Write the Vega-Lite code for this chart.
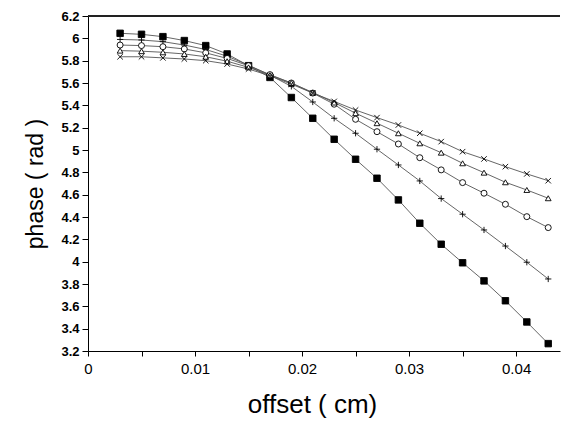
{
  "$schema": "https://vega.github.io/schema/vega-lite/v6.json",
  "width": 472,
  "height": 335,
  "autosize": {"type": "none"},
  "padding": {"left": 88, "top": 16, "right": 8, "bottom": 71},
  "background": "white",
  "config": {
    "view": {"stroke": null},
    "font": "Liberation Sans",
    "axis": {"domainColor": "#000", "tickColor": "#000", "labelColor": "#000", "titleColor": "#000", "grid": false, "titleFontWeight": "normal"}
  },
  "data": {"values": [
    {"x":0.003,"phase":6.045,"s":"A"},{"x":0.005,"phase":6.036,"s":"A"},{"x":0.007,"phase":6.015,"s":"A"},{"x":0.009,"phase":5.98,"s":"A"},{"x":0.011,"phase":5.935,"s":"A"},{"x":0.013,"phase":5.86,"s":"A"},{"x":0.015,"phase":5.755,"s":"A"},{"x":0.017,"phase":5.65,"s":"A"},{"x":0.019,"phase":5.47,"s":"A"},{"x":0.021,"phase":5.284,"s":"A"},{"x":0.023,"phase":5.096,"s":"A"},{"x":0.025,"phase":4.917,"s":"A"},{"x":0.027,"phase":4.747,"s":"A"},{"x":0.029,"phase":4.553,"s":"A"},{"x":0.031,"phase":4.344,"s":"A"},{"x":0.033,"phase":4.156,"s":"A"},{"x":0.035,"phase":3.99,"s":"A"},{"x":0.037,"phase":3.828,"s":"A"},{"x":0.039,"phase":3.65,"s":"A"},{"x":0.041,"phase":3.46,"s":"A"},{"x":0.043,"phase":3.266,"s":"A"},
    {"x":0.003,"phase":5.99,"s":"B"},{"x":0.005,"phase":5.985,"s":"B"},{"x":0.007,"phase":5.97,"s":"B"},{"x":0.009,"phase":5.94,"s":"B"},{"x":0.011,"phase":5.9,"s":"B"},{"x":0.013,"phase":5.84,"s":"B"},{"x":0.015,"phase":5.76,"s":"B"},{"x":0.017,"phase":5.67,"s":"B"},{"x":0.019,"phase":5.57,"s":"B"},{"x":0.021,"phase":5.43,"s":"B"},{"x":0.023,"phase":5.284,"s":"B"},{"x":0.025,"phase":5.15,"s":"B"},{"x":0.027,"phase":5.007,"s":"B"},{"x":0.029,"phase":4.866,"s":"B"},{"x":0.031,"phase":4.723,"s":"B"},{"x":0.033,"phase":4.565,"s":"B"},{"x":0.035,"phase":4.425,"s":"B"},{"x":0.037,"phase":4.284,"s":"B"},{"x":0.039,"phase":4.14,"s":"B"},{"x":0.041,"phase":3.995,"s":"B"},{"x":0.043,"phase":3.845,"s":"B"},
    {"x":0.003,"phase":5.94,"s":"C"},{"x":0.005,"phase":5.935,"s":"C"},{"x":0.007,"phase":5.925,"s":"C"},{"x":0.009,"phase":5.905,"s":"C"},{"x":0.011,"phase":5.87,"s":"C"},{"x":0.013,"phase":5.82,"s":"C"},{"x":0.015,"phase":5.755,"s":"C"},{"x":0.017,"phase":5.675,"s":"C"},{"x":0.019,"phase":5.6,"s":"C"},{"x":0.021,"phase":5.51,"s":"C"},{"x":0.023,"phase":5.41,"s":"C"},{"x":0.025,"phase":5.275,"s":"C"},{"x":0.027,"phase":5.164,"s":"C"},{"x":0.029,"phase":5.054,"s":"C"},{"x":0.031,"phase":4.931,"s":"C"},{"x":0.033,"phase":4.822,"s":"C"},{"x":0.035,"phase":4.708,"s":"C"},{"x":0.037,"phase":4.613,"s":"C"},{"x":0.039,"phase":4.514,"s":"C"},{"x":0.041,"phase":4.403,"s":"C"},{"x":0.043,"phase":4.305,"s":"C"},
    {"x":0.003,"phase":5.89,"s":"D"},{"x":0.005,"phase":5.885,"s":"D"},{"x":0.007,"phase":5.875,"s":"D"},{"x":0.009,"phase":5.86,"s":"D"},{"x":0.011,"phase":5.835,"s":"D"},{"x":0.013,"phase":5.795,"s":"D"},{"x":0.015,"phase":5.74,"s":"D"},{"x":0.017,"phase":5.67,"s":"D"},{"x":0.019,"phase":5.6,"s":"D"},{"x":0.021,"phase":5.515,"s":"D"},{"x":0.023,"phase":5.425,"s":"D"},{"x":0.025,"phase":5.33,"s":"D"},{"x":0.027,"phase":5.24,"s":"D"},{"x":0.029,"phase":5.15,"s":"D"},{"x":0.031,"phase":5.06,"s":"D"},{"x":0.033,"phase":4.976,"s":"D"},{"x":0.035,"phase":4.881,"s":"D"},{"x":0.037,"phase":4.797,"s":"D"},{"x":0.039,"phase":4.711,"s":"D"},{"x":0.041,"phase":4.642,"s":"D"},{"x":0.043,"phase":4.568,"s":"D"},
    {"x":0.003,"phase":5.835,"s":"E"},{"x":0.005,"phase":5.835,"s":"E"},{"x":0.007,"phase":5.825,"s":"E"},{"x":0.009,"phase":5.815,"s":"E"},{"x":0.011,"phase":5.8,"s":"E"},{"x":0.013,"phase":5.77,"s":"E"},{"x":0.015,"phase":5.725,"s":"E"},{"x":0.017,"phase":5.665,"s":"E"},{"x":0.019,"phase":5.59,"s":"E"},{"x":0.021,"phase":5.51,"s":"E"},{"x":0.023,"phase":5.435,"s":"E"},{"x":0.025,"phase":5.358,"s":"E"},{"x":0.027,"phase":5.29,"s":"E"},{"x":0.029,"phase":5.224,"s":"E"},{"x":0.031,"phase":5.15,"s":"E"},{"x":0.033,"phase":5.075,"s":"E"},{"x":0.035,"phase":4.985,"s":"E"},{"x":0.037,"phase":4.92,"s":"E"},{"x":0.039,"phase":4.851,"s":"E"},{"x":0.041,"phase":4.786,"s":"E"},{"x":0.043,"phase":4.725,"s":"E"}
  ]},
  "encoding": {
    "x": {
      "field": "x", "type": "quantitative",
      "scale": {"domain": [0, 0.0441], "nice": false, "zero": false},
      "axis": {
        "values": [0, 0.005, 0.01, 0.015, 0.02, 0.025, 0.03, 0.035, 0.04],
        "labelExpr": "round(datum.value*200) % 2 == 0 ? format(datum.value, '~g') : ''",
        "title": "offset ( cm)", "titleFontSize": 26, "titlePadding": 15, "titleX": 224,
        "labelFontSize": 15, "labelPadding": 5, "tickSize": 5, "labelFlush": false, "labelOverlap": false
      }
    },
    "y": {
      "field": "phase", "type": "quantitative",
      "scale": {"domain": [3.2, 6.2], "nice": false, "zero": false},
      "axis": {
        "values": [3.2, 3.4, 3.6, 3.8, 4, 4.2, 4.4, 4.6, 4.8, 5, 5.2, 5.4, 5.6, 5.8, 6, 6.2],
        "format": "~g",
        "title": "phase ( rad )", "titleFontSize": 23, "titlePadding": 13,
        "labelFontSize": 13, "labelFontWeight": "bold", "labelPadding": 3, "tickSize": 6, "labelFlush": false, "labelOverlap": false
      }
    }
  },
  "layer": [
    {
      "mark": {"type": "rule", "color": "#222", "strokeWidth": 1},
      "encoding": {"y": {"datum": 6.2}, "x": null}
    },
    {
      "mark": {"type": "line", "color": "#555", "strokeWidth": 0.9},
      "encoding": {"detail": {"field": "s"}}
    },
    {
      "mark": {"type": "point", "filled": true, "stroke": "#000", "strokeWidth": 0.9, "opacity": 1},
      "encoding": {
        "shape": {"field": "s", "legend": null, "scale": {"domain": ["A","B","C","D","E"], "range": ["square", "M-1,0L1,0M0,-1L0,1", "circle", "triangle-up", "M-1,-1L1,1M-1,1L1,-1"]}},
        "fill": {"field": "s", "legend": null, "scale": {"domain": ["A","B","C","D","E"], "range": ["#000", "#fff", "#fff", "#fff", "#fff"]}},
        "size": {"field": "s", "legend": null, "scale": {"domain": ["A","B","C","D","E"], "range": [42, 30, 22, 26, 26]}}
      }
    }
  ]
}
